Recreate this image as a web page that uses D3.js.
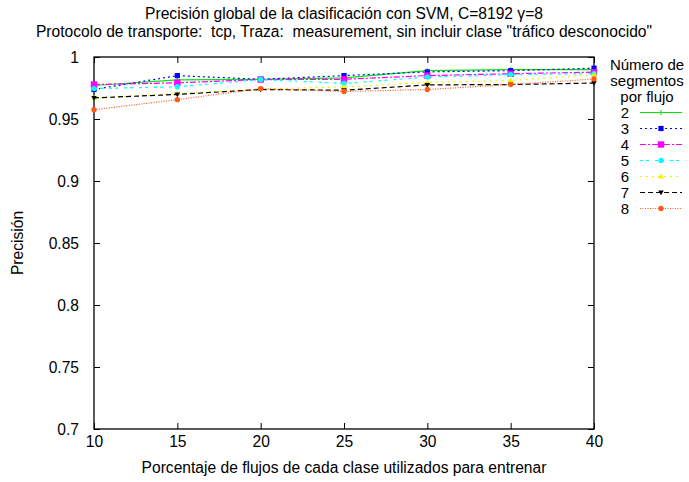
<!DOCTYPE html>
<html>
<head>
<meta charset="utf-8">
<script src="https://cdn.jsdelivr.net/npm/d3@7"></script>
<style>
  html, body { margin: 0; padding: 0; background: #fff; }
  svg { display: block; font-family: "Liberation Sans", Arial, Helvetica, sans-serif; }
  svg text { white-space: pre; }
</style>
</head>
<body>
<svg id="chart" width="689" height="482"></svg>
<script>
// Training percentage per class (x axis)
const porcentajes = [10, 15, 20, 25, 30, 35, 40];

// Segments per flow (one series each)
const segmentos = ["2", "3", "4", "5", "6", "7", "8"];

// Global precision for each number of segments
const prec2 = [0.9770, 0.9815, 0.9820, 0.9832, 0.9890, 0.9898, 0.9898];
const prec3 = [0.9738, 0.9850, 0.9820, 0.9850, 0.9880, 0.9890, 0.9910];
const prec4 = [0.9778, 0.9792, 0.9818, 0.9820, 0.9850, 0.9865, 0.9878];
const prec5 = [0.9745, 0.9760, 0.9818, 0.9787, 0.9838, 0.9858, 0.9866];
const prec6 = [0.9670, 0.9705, 0.9742, 0.9758, 0.9795, 0.9810, 0.9857];
const prec7 = [0.9670, 0.9698, 0.9738, 0.9732, 0.9775, 0.9778, 0.9790];
const prec8 = [0.9575, 0.9656, 0.9745, 0.9722, 0.9738, 0.9778, 0.9822];

const yTicks = [0.7, 0.75, 0.8, 0.85, 0.9, 0.95, 1];
const xTicks = [10, 15, 20, 25, 30, 35, 40];

const titulo1 = "Precisión global de la clasificación con SVM, C=8192 \u03B3=8";
const titulo2 = "Protocolo de transporte:  tcp, Traza:  measurement, sin incluir clase \"tráfico desconocido\"";
const etiquetaX = "Porcentaje de flujos de cada clase utilizados para entrenar";
const etiquetaY = "Precisión";
const leyendaTitulo = ["Número de", "segmentos", "por flujo"];

const valores = [prec2, prec3, prec4, prec5, prec6, prec7, prec8];

// Visual style per series: colour, dash pattern, marker shape
const estilos = [
  { color: "#00e600", dash: null,        marker: "plus" },
  { color: "#0000ff", dash: "2,3",       marker: "square" },
  { color: "#ff00ff", dash: "6,2,2,2",   marker: "squareBig" },
  { color: "#00ffff", dash: "3,3,3,6",   marker: "circle" },
  { color: "#f2f200", dash: "2,4",       marker: "triangle" },
  { color: "#000000", dash: "5,3",       marker: "triDown" },
  { color: "#ff5a14", dash: "1,1.5",     marker: "circle" }
];

const svg = d3.select("#chart");
const margin = { left: 94, right: 95, top: 57, bottom: 53 };
const W = 689, H = 482;

const x = d3.scaleLinear().domain([10, 40]).range([margin.left, W - margin.right]);
const y = d3.scaleLinear().domain([0.7, 1]).range([H - margin.bottom, margin.top]);

const fs = 15.6;
const fsLeg = 15;

// Titles
svg.append("text").attr("x", 344).attr("y", 19).attr("text-anchor", "middle")
  .attr("font-size", fs).text(titulo1);
svg.append("text").attr("x", 344).attr("y", 37).attr("text-anchor", "middle")
  .attr("font-size", fs).text(titulo2);

// Axes with inward ticks, mirrored on the opposite sides
const tickLen = 6;
const fmtY = d => d === 1 ? "1" : String(d);

const gB = svg.append("g").attr("transform", `translate(0,${y(0.7)})`)
  .call(d3.axisBottom(x).tickValues(xTicks).tickSize(-tickLen).tickPadding(7).tickFormat(d3.format("d")));
const gT = svg.append("g").attr("transform", `translate(0,${y(1)})`)
  .call(d3.axisTop(x).tickValues(xTicks).tickSize(-tickLen).tickFormat(""));
const gL = svg.append("g").attr("transform", `translate(${x(10)},0)`)
  .call(d3.axisLeft(y).tickValues(yTicks).tickSize(-tickLen).tickPadding(15).tickFormat(fmtY));
const gR = svg.append("g").attr("transform", `translate(${x(40)},0)`)
  .call(d3.axisRight(y).tickValues(yTicks).tickSize(-tickLen).tickFormat(""));

[gB, gT, gL, gR].forEach(g => {
  g.select(".domain").remove();
  g.selectAll(".tick line").attr("stroke", "#000").attr("stroke-width", 1);
  g.selectAll(".tick text").attr("font-size", fs).attr("font-family", "Liberation Sans, Arial, sans-serif").attr("fill", "#000");
});

// Frame
svg.append("rect")
  .attr("x", x(10)).attr("y", y(1))
  .attr("width", x(40) - x(10)).attr("height", y(0.7) - y(1))
  .attr("fill", "none").attr("stroke", "#000").attr("stroke-width", 1.3);

// Axis labels
svg.append("text").attr("x", (x(10) + x(40)) / 2).attr("y", 473).attr("text-anchor", "middle")
  .attr("font-size", fs).text(etiquetaX);
svg.append("text").attr("transform", `translate(23,${(y(0.7) + y(1)) / 2}) rotate(-90)`)
  .attr("text-anchor", "middle").attr("font-size", fs).text(etiquetaY);

// Marker drawing helper
function drawMarker(g, shape, cx, cy, color) {
  if (shape === "plus") {
    g.append("path").attr("d", `M${cx - 2.5},${cy}H${cx + 2.5}M${cx},${cy - 2.5}V${cy + 2.5}`)
      .attr("stroke", color).attr("stroke-width", 1.1).attr("fill", "none");
  } else if (shape === "square") {
    g.append("rect").attr("x", cx - 2.6).attr("y", cy - 2.6).attr("width", 5.2).attr("height", 5.2).attr("fill", color);
  } else if (shape === "squareBig") {
    g.append("rect").attr("x", cx - 3.2).attr("y", cy - 3.2).attr("width", 6.4).attr("height", 6.4).attr("fill", color);
  } else if (shape === "circle") {
    g.append("circle").attr("cx", cx).attr("cy", cy).attr("r", 2.7).attr("fill", color);
  } else if (shape === "triangle") {
    g.append("path").attr("d", `M${cx},${cy - 3}L${cx + 3},${cy + 2}L${cx - 3},${cy + 2}Z`).attr("fill", color);
  } else if (shape === "triDown") {
    g.append("path").attr("d", `M${cx},${cy + 2.8}L${cx + 2.8},${cy - 2}L${cx - 2.8},${cy - 2}Z`).attr("fill", color);
  }
}

const line = d3.line().x(d => x(d[0])).y(d => y(d[1]));

// Series lines and markers
valores.forEach((serie, i) => {
  const st = estilos[i];
  const pts = porcentajes.map((p, j) => [p, serie[j]]);
  const g = svg.append("g");
  g.append("path").datum(pts).attr("d", line)
    .attr("fill", "none").attr("stroke", st.color).attr("stroke-width", 1.2)
    .attr("stroke-dasharray", st.dash);
  pts.forEach(p => drawMarker(g, st.marker, x(p[0]), y(p[1]), st.color));
});

// Legend
const lgX = 647;
leyendaTitulo.forEach((t, i) => {
  svg.append("text").attr("x", lgX).attr("y", 69.5 + i * 16).attr("text-anchor", "middle")
    .attr("font-size", fsLeg).text(t);
});
segmentos.forEach((s, i) => {
  const ly = 112.5 + i * 16;
  const st = estilos[i];
  svg.append("text").attr("x", 625).attr("y", ly + 5.5).attr("text-anchor", "middle")
    .attr("font-size", fsLeg).text(s);
  const g = svg.append("g");
  g.append("line").attr("x1", 640).attr("x2", 682).attr("y1", ly).attr("y2", ly)
    .attr("stroke", st.color).attr("stroke-width", 1.2).attr("stroke-dasharray", st.dash);
  drawMarker(g, st.marker, 661, ly, st.color);
});
</script>
</body>
</html>
